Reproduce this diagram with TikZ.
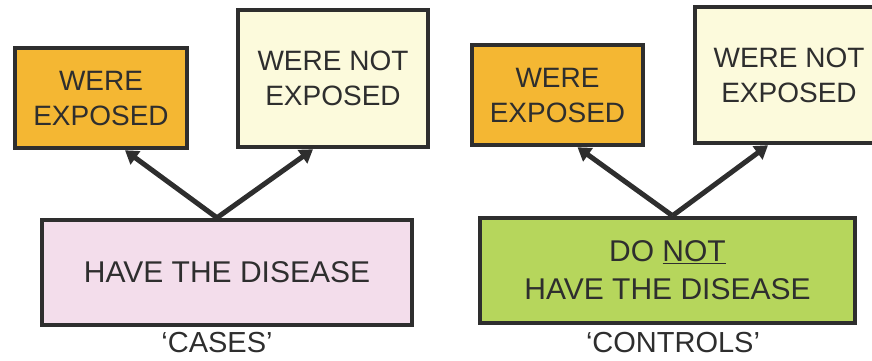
\documentclass[tikz,border=0pt]{standalone}
\usepackage{fontspec}
\setmainfont{Liberation Sans}
\usepackage{xcolor}
\usepackage{tikz}
\usetikzlibrary{arrows.meta, positioning, calc}

\definecolor{expOrange}{HTML}{F4B733}
\definecolor{noexpCream}{HTML}{FCFADC}
\definecolor{casePink}{HTML}{F3DDEB}
\definecolor{ctrlGreen}{HTML}{B6D65C}
\definecolor{inkGray}{HTML}{2E2E2E}

\begin{document}
\begin{tikzpicture}[
  x=1pt, y=-1pt,
  box/.style={draw=inkGray, line width=4.5pt, align=center, inner sep=0pt,
              text=inkGray, font=\fontsize{28}{35}\selectfont},
  bigbox/.style={box, font=\fontsize{30}{38}\selectfont},
  tag/.style={text=inkGray, font=\fontsize{29}{34}\selectfont},
  arr/.style={-{Triangle[length=13pt, width=16pt]}, line width=5pt, draw=inkGray},
]
\useasboundingbox (0,0) rectangle (872,360);

% ---- Cases (left) ----------------------------------------------------------
\node[box, fill=expOrange, minimum width=172pt, minimum height=100pt]
  (cExp) at (101, 98) {WERE\\EXPOSED};
\node[box, fill=noexpCream, minimum width=190pt, minimum height=137pt]
  (cNoExp) at (333, 78.5) {WERE NOT\\EXPOSED};
\node[bigbox, fill=casePink, minimum width=370pt, minimum height=105pt]
  (cases) at (227, 272.5) {HAVE THE DISEASE};
\node[tag, anchor=north] (casesLab) at (217, 329) {`CASES'};

\draw[arr] ([xshift=-10pt]cases.north) -- ([xshift=24pt]cExp.south);
\draw[arr] ([xshift=-10pt]cases.north) -- ([xshift=-20pt]cNoExp.south);

% ---- Controls (right) ------------------------------------------------------
\node[box, fill=expOrange, minimum width=171pt, minimum height=100pt]
  (kExp) at (557.5, 95) {WERE\\EXPOSED};
\node[box, fill=noexpCream, minimum width=188pt, minimum height=136pt]
  (kNoExp) at (789, 75) {WERE NOT\\EXPOSED};
\node[bigbox, fill=ctrlGreen, minimum width=375pt, minimum height=105pt]
  (controls) at (667.5, 270.5) {DO \underline{NOT}\\HAVE THE DISEASE};
\node[tag, anchor=north] (controlsLab) at (673, 329) {`CONTROLS'};

\draw[arr] ([xshift=5pt]controls.north) -- ([xshift=20pt]kExp.south);
\draw[arr] ([xshift=5pt]controls.north) -- ([xshift=-21pt]kNoExp.south);

\end{tikzpicture}
\end{document}
